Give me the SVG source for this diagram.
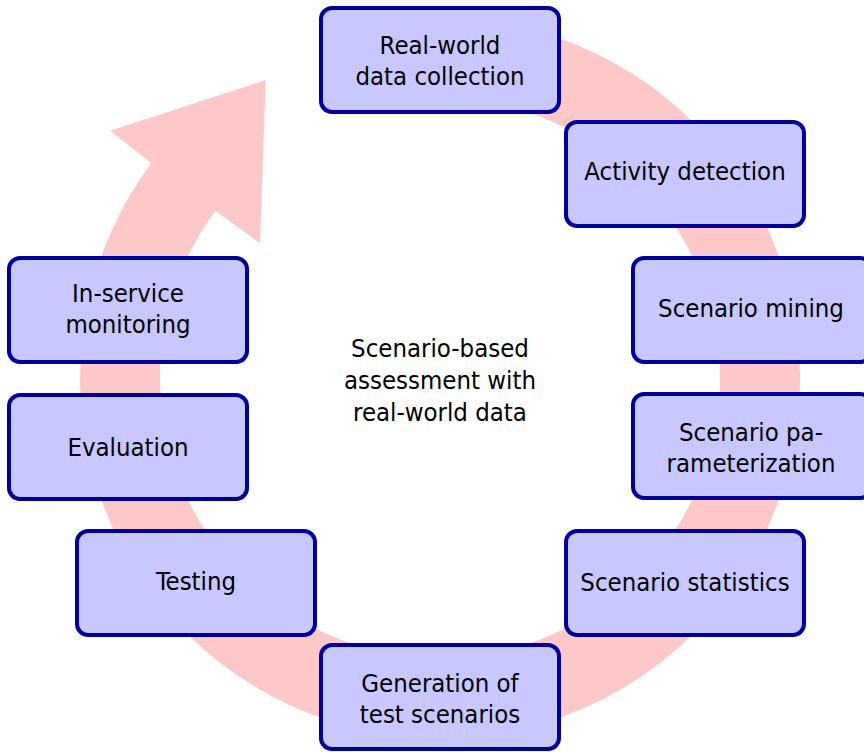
<svg xmlns="http://www.w3.org/2000/svg" width="864" height="752" viewBox="0 0 864 752">
<style>
.box{fill:#c8c8ff;stroke:#0000a0;stroke-width:4}
.t{font-family:"DejaVu Sans Condensed","DejaVu Sans",sans-serif;font-stretch:condensed;font-size:25.5px;fill:#000;text-anchor:middle}
</style>
<rect width="864" height="752" fill="#fff"/>
<g id="connectors">
<path id="cycle-arrow" fill="#ffc8c8" d="M 440 18 A 360 360 0 1 1 151.4 162.9 L 110 130.7 L 265.7 80 L 260 243.3 L 215.5 210.7 A 280 280 0 1 0 440 98 Z"/>
</g>
<g id="center-label">
<text class="t" x="440" y="357">Scenario-based</text>
<text class="t" x="440" y="389">assessment with</text>
<text class="t" x="440" y="421">real-world data</text>
</g>
<g id="n1"><rect class="box" x="321" y="8" width="238" height="104" rx="11"/><text class="t" x="440" y="54">Real-world</text><text class="t" x="440" y="85">data collection</text></g>
<g id="n2"><rect class="box" x="566" y="122" width="238" height="104" rx="11"/><text class="t" x="685" y="180">Activity detection</text></g>
<g id="n3"><rect class="box" x="633" y="258" width="238" height="104" rx="11"/><text class="t" x="751" y="317">Scenario mining</text></g>
<g id="n4"><rect class="box" x="633" y="394" width="238" height="104" rx="11"/><text class="t" x="751" y="441">Scenario pa-</text><text class="t" x="751" y="472">rameterization</text></g>
<g id="n5"><rect class="box" x="566" y="531" width="238" height="104" rx="11"/><text class="t" x="685" y="591">Scenario statistics</text></g>
<g id="n6"><rect class="box" x="321" y="645" width="238" height="104" rx="11"/><text class="t" x="440" y="692">Generation of</text><text class="t" x="440" y="723">test scenarios</text></g>
<g id="n7"><rect class="box" x="77" y="531" width="238" height="104" rx="11"/><text class="t" x="196" y="590">Testing</text></g>
<g id="n8"><rect class="box" x="9" y="395" width="238" height="104" rx="11"/><text class="t" x="128" y="456">Evaluation</text></g>
<g id="n9"><rect class="box" x="9" y="258" width="238" height="104" rx="11"/><text class="t" x="128" y="302">In-service</text><text class="t" x="128" y="333">monitoring</text></g>
</svg>
